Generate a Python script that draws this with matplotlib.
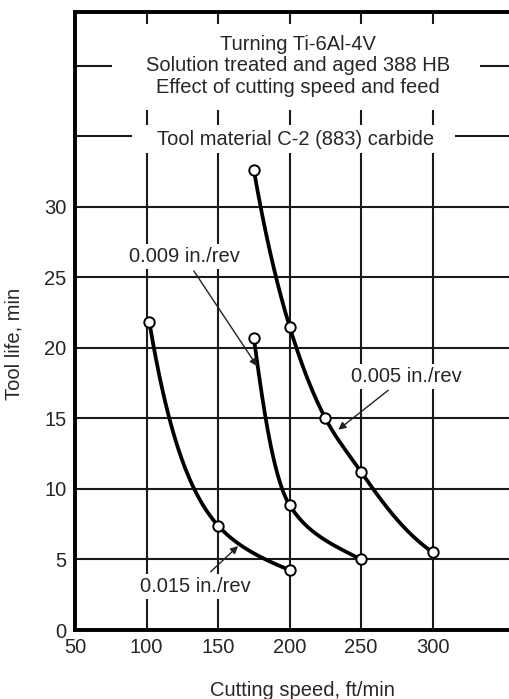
"""Tool life vs cutting speed, Ti-6Al-4V turning (three feeds)."""
import numpy as np
import matplotlib
matplotlib.use('Agg')
import matplotlib.pyplot as plt
from matplotlib.patches import Rectangle

plt.rcParams['font.family'] = ['Liberation Sans', 'DejaVu Sans']

# feed 0.005 in./rev
SPEED_005 = [175, 200, 225, 250, 300]
LIFE_005 = [32.6, 21.5, 15.0, 11.2, 5.5]
# feed 0.009 in./rev
SPEED_009 = [175, 200, 250]
LIFE_009 = [20.7, 8.85, 5.0]
# feed 0.015 in./rev
SPEED_015 = [102, 150, 200]
LIFE_015 = [21.8, 7.4, 4.25]

XTICKS = [50, 100, 150, 200, 250, 300]
YTICKS = [0, 5, 10, 15, 20, 25, 30]
YGRID = [5, 10, 15, 20, 25, 30, 35, 40]

TITLE = ['Turning Ti-6Al-4V', 'Solution treated and aged 388 HB',
         'Effect of cutting speed and feed']
SUBTITLE = 'Tool material C-2 (883) carbide'

FS = 14.5


def smooth(xs, ys, n=80):
    """monotone cubic through the points, in log-log space"""
    lx, ly = np.log(xs), np.log(ys)
    h = np.diff(lx); d = np.diff(ly) / h
    m = np.zeros(len(lx))
    m[0], m[-1] = d[0], d[-1]
    for i in range(1, len(lx) - 1):
        m[i] = 0 if d[i-1] * d[i] <= 0 else 2 / (1 / d[i-1] + 1 / d[i])
    outx, outy = [], []
    for i in range(len(h)):
        t = np.linspace(0, 1, n)
        h00 = 2*t**3 - 3*t**2 + 1; h10 = t**3 - 2*t**2 + t
        h01 = -2*t**3 + 3*t**2; h11 = t**3 - t**2
        yy = h00*ly[i] + h10*h[i]*m[i] + h01*ly[i+1] + h11*h[i]*m[i+1]
        outx.append(np.exp(lx[i] + t*h[i])); outy.append(np.exp(yy))
    return np.concatenate(outx), np.concatenate(outy)


fig = plt.figure(figsize=(5.10, 6.99), dpi=100)
ax = fig.add_axes([0.147, 0.0987, 0.853, 0.884])
ax.set_xlim(50, 354)
ax.set_ylim(0, 43.8)

for v in XTICKS[1:]:
    ax.axvline(v, color='#1a1a1a', lw=1.5, zorder=1)
for v in YGRID:
    ax.axhline(v, color='#1a1a1a', lw=1.5, zorder=1)

for xs, ys in [(SPEED_005, LIFE_005), (SPEED_009, LIFE_009), (SPEED_015, LIFE_015)]:
    cx, cy = smooth(xs, ys)
    ax.plot(cx, cy, color='black', lw=2.7, zorder=3)
    ax.plot(xs, ys, 'o', ms=7.5, mfc='white', mec='black', mew=1.4, zorder=4)

# white areas behind the title block
ax.add_patch(Rectangle((0.085, 0.841), 0.846, 0.140, transform=ax.transAxes,
                       facecolor='white', edgecolor='none', zorder=2))
ax.add_patch(Rectangle((0.131, 0.772), 0.743, 0.045, transform=ax.transAxes,
                       facecolor='white', edgecolor='none', zorder=2))
ax.text(0.512, 0.913, '\n'.join(TITLE), transform=ax.transAxes, ha='center',
        va='center', fontsize=FS, color='#262626', linespacing=1.15, zorder=5)
ax.text(0.507, 0.7945, SUBTITLE, transform=ax.transAxes, ha='center',
        va='center', fontsize=FS, color='#262626', zorder=5)

box = dict(boxstyle='square,pad=0.15', facecolor='white', edgecolor='none')
arrow = dict(arrowstyle='-|>', color='#222222', lw=1.0, mutation_scale=11,
             shrinkA=2, shrinkB=0)
ax.annotate('0.009 in./rev', xy=(177.3, 18.7), xytext=(126.2, 26.5),
            ha='center', va='center', fontsize=FS, color='#262626',
            bbox=box, arrowprops=arrow, zorder=5)
ax.annotate('0.005 in./rev', xy=(234, 14.2), xytext=(281.5, 18.0),
            ha='center', va='center', fontsize=FS, color='#262626',
            bbox=box, arrowprops=arrow, zorder=5)
ax.annotate('0.015 in./rev', xy=(164, 5.95), xytext=(134, 3.1),
            ha='center', va='center', fontsize=FS, color='#262626',
            bbox=box, arrowprops=arrow, zorder=5)

ax.set_xticks(XTICKS)
ax.set_yticks(YTICKS)
ax.tick_params(length=0, labelsize=FS, labelcolor='#262626', pad=6)
ax.set_xlabel('Cutting speed, ft/min', fontsize=FS, color='#262626')
ax.set_ylabel('Tool life, min', fontsize=FS, color='#262626')
ax.xaxis.set_label_coords(0.524, -0.082)
ax.yaxis.set_label_coords(-0.118, 0.463)

ax.spines['right'].set_visible(False)
for s in ['left', 'bottom', 'top']:
    ax.spines[s].set_linewidth(2.8)

fig.savefig('out.png', dpi=100)
